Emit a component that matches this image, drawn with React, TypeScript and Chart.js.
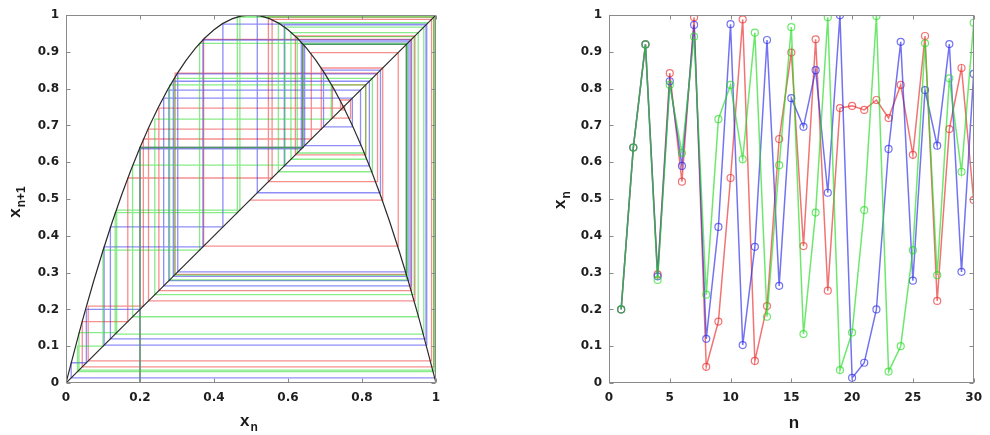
import React, { useEffect, useRef } from 'react';
import { Chart, registerables } from 'chart.js';

Chart.register(...registerables);

// ---- data ----
const nValues = [1, 2, 3, 4, 5, 6, 7, 8, 9, 10, 11, 12, 13, 14, 15, 16, 17, 18, 19, 20, 21, 22, 23, 24, 25, 26, 27, 28, 29, 30];
const redSeries = [0.2, 0.64, 0.92, 0.295, 0.842, 0.547, 0.994, 0.044, 0.167, 0.557, 0.988, 0.06, 0.209, 0.663, 0.898, 0.372, 0.934, 0.251, 0.747, 0.753, 0.742, 0.769, 0.72, 0.81, 0.62, 0.943, 0.223, 0.69, 0.856, 0.497];
const blueSeries = [0.2, 0.64, 0.92, 0.29, 0.82, 0.59, 0.973, 0.12, 0.424, 0.975, 0.103, 0.37, 0.932, 0.264, 0.774, 0.696, 0.85, 0.517, 0.999, 0.014, 0.055, 0.2, 0.636, 0.927, 0.278, 0.796, 0.645, 0.921, 0.302, 0.84];
const greenSeries = [0.2, 0.64, 0.92, 0.28, 0.81, 0.625, 0.941, 0.24, 0.717, 0.81, 0.608, 0.952, 0.18, 0.592, 0.967, 0.133, 0.463, 0.994, 0.035, 0.137, 0.47, 0.997, 0.031, 0.1, 0.361, 0.923, 0.293, 0.828, 0.574, 0.979];

const parabolaX = [0, 0.05, 0.1, 0.15, 0.2, 0.25, 0.3, 0.35, 0.4, 0.45, 0.5, 0.55, 0.6, 0.65, 0.7, 0.75, 0.8, 0.85, 0.9, 0.95, 1];
const parabolaY = [0, 0.19, 0.36, 0.51, 0.64, 0.75, 0.84, 0.91, 0.96, 0.99, 1, 0.99, 0.96, 0.91, 0.84, 0.75, 0.64, 0.51, 0.36, 0.19, 0];
const diagonalX = [0, 1];
const diagonalY = [0, 1];

const leftXTicks = [0, 0.2, 0.4, 0.6, 0.8, 1];
const yTicks = [0, 0.1, 0.2, 0.3, 0.4, 0.5, 0.6, 0.7, 0.8, 0.9, 1];
const rightXTicks = [0, 5, 10, 15, 20, 25, 30];

// ---- styles ----
const RED_W = 'rgba(240,30,30,0.5)';
const GREEN_W = 'rgba(20,215,20,0.5)';
const BLUE_W = 'rgba(30,30,240,0.5)';
const RED = 'rgba(235,40,40,0.65)';
const GREEN = 'rgba(30,220,30,0.65)';
const BLUE = 'rgba(40,40,235,0.65)';

const fmt = (v: number) => String(Number(Number(v).toFixed(2)));

function cobweb(series: number[]) {
  const pts: { x: number; y: number }[] = [{ x: series[0], y: 0 }];
  for (let i = 0; i < series.length - 1; i++) {
    pts.push({ x: series[i], y: series[i + 1] });
    pts.push({ x: series[i + 1], y: series[i + 1] });
  }
  return pts;
}

const zip = (xs: number[], ys: number[]) => xs.map((x, i) => ({ x, y: ys[i] }));

function axis(ticksArr: number[], min: number, max: number, pos: string, size: number) {
  return {
    type: 'linear',
    position: pos,
    min,
    max,
    grid: { display: false, drawTicks: false },
    border: { display: false },
    afterBuildTicks: (s: any) => {
      s.ticks = ticksArr.map((v) => ({ value: v }));
    },
    afterFit: (s: any) => {
      if (pos === 'left') s.width = size;
      else s.height = size;
    },
    ticks: {
      font: { family: 'DejaVu Sans', weight: 'bold', size: 12 },
      color: '#1e1e1e',
      padding: pos === 'left' ? 7 : 8,
      autoSkip: false,
      maxRotation: 0,
      callback: (v: any) => fmt(v),
    },
  };
}

const boxPlugin = {
  id: 'matlabBox',
  afterDatasetsDraw(chart: any) {
    const { ctx, chartArea: a, scales } = chart;
    ctx.save();
    ctx.strokeStyle = '#8a8a8a';
    ctx.lineWidth = 1;
    const L = Math.round(a.left) + 0.5;
    const R = Math.round(a.right) - 0.5;
    const T = Math.round(a.top) + 0.5;
    const B = Math.round(a.bottom) - 0.5;
    ctx.strokeRect(L, T, R - L, B - T);
    const len = 4;
    ctx.beginPath();
    for (const t of scales.x.ticks) {
      const px = Math.round(scales.x.getPixelForValue(t.value)) + 0.5;
      ctx.moveTo(px, B);
      ctx.lineTo(px, B - len);
      ctx.moveTo(px, T);
      ctx.lineTo(px, T + len);
    }
    for (const t of scales.y.ticks) {
      const py = Math.round(scales.y.getPixelForValue(t.value)) + 0.5;
      ctx.moveTo(L, py);
      ctx.lineTo(L + len, py);
      ctx.moveTo(R, py);
      ctx.lineTo(R - len, py);
    }
    ctx.stroke();
    ctx.restore();
  },
};

function drawLabel(ctx: CanvasRenderingContext2D, main: string, sub: string, c: number, base: number, rotated: boolean) {
  ctx.save();
  ctx.fillStyle = '#1a1a1a';
  const mainFont = 'bold 17px "Liberation Sans"';
  const subFont = 'bold 12px "Liberation Sans"';
  ctx.font = mainFont;
  const w1 = ctx.measureText(main).width;
  ctx.font = subFont;
  const w2 = sub ? ctx.measureText(sub).width : 0;
  const total = w1 + (sub ? w2 + 1 : 0);
  if (rotated) {
    ctx.translate(base, c);
    ctx.rotate(-Math.PI / 2);
  } else {
    ctx.translate(c, base);
  }
  ctx.textAlign = 'left';
  ctx.textBaseline = 'alphabetic';
  ctx.font = mainFont;
  ctx.fillText(main, -total / 2, 0);
  if (sub) {
    ctx.font = subFont;
    ctx.fillText(sub, -total / 2 + w1 + 1, 5);
  }
  ctx.restore();
}

function makeTitlePlugin(draw: (ctx: CanvasRenderingContext2D) => void) {
  return {
    id: 'titles',
    afterDraw(chart: any) {
      draw(chart.ctx);
    },
  };
}

function LeftChart() {
  const ref = useRef<HTMLCanvasElement | null>(null);
  useEffect(() => {
    if (!ref.current) return;
    const line = (data: any, color: string, width = 1.3) => ({
      data,
      showLine: true,
      borderColor: color,
      borderWidth: width,
      pointRadius: 0,
      fill: false,
    });
    const chart = new Chart(ref.current, {
      type: 'scatter',
      data: {
        datasets: [
          { ...line(zip(parabolaX, parabolaY), '#2a2a2a', 1.2), cubicInterpolationMode: 'monotone' },
          line(zip(diagonalX, diagonalY), '#2a2a2a', 1.2),
          line(cobweb(greenSeries), GREEN_W),
          line(cobweb(blueSeries), BLUE_W),
          line(cobweb(redSeries), RED_W),
        ],
      } as any,
      options: {
        animation: false,
        responsive: false,
        maintainAspectRatio: false,
        layout: { padding: { top: 15, right: 59, left: 0, bottom: 0 } },
        plugins: { legend: { display: false }, tooltip: { enabled: false } },
        scales: {
          x: axis(leftXTicks, 0, 1, 'bottom', 52),
          y: axis(yTicks, 0, 1, 'left', 66),
        } as any,
      },
      plugins: [
        boxPlugin,
        makeTitlePlugin((ctx) => {
          drawLabel(ctx, 'x', 'n', 249, 426, false);
          drawLabel(ctx, 'x', 'n+1', 202, 20, true);
        }),
      ],
    });
    return () => chart.destroy();
  }, []);
  return <canvas ref={ref} width={495} height={435} style={{ position: 'absolute', left: 0, top: 0 }} />;
}

function RightChart() {
  const ref = useRef<HTMLCanvasElement | null>(null);
  useEffect(() => {
    if (!ref.current) return;
    const series = (ys: number[], color: string) => ({
      data: zip(nValues, ys),
      showLine: true,
      borderColor: color,
      borderWidth: 1.5,
      pointRadius: 3.5,
      pointBorderWidth: 1.2,
      pointBorderColor: color,
      pointBackgroundColor: 'rgba(0,0,0,0)',
      pointStyle: 'circle',
      fill: false,
    });
    const chart = new Chart(ref.current, {
      type: 'scatter',
      data: {
        datasets: [series(greenSeries, GREEN), series(blueSeries, BLUE), series(redSeries, RED)],
      } as any,
      options: {
        animation: false,
        responsive: false,
        maintainAspectRatio: false,
        layout: { padding: { top: 15, right: 10, left: 0, bottom: 0 } },
        plugins: { legend: { display: false }, tooltip: { enabled: false } },
        scales: {
          x: axis(rightXTicks, 0, 30, 'bottom', 52),
          y: axis(yTicks, 0, 1, 'left', 114),
        } as any,
      },
      plugins: [
        boxPlugin,
        makeTitlePlugin((ctx) => {
          drawLabel(ctx, 'n', '', 299, 428, false);
          drawLabel(ctx, 'x', 'n', 200, 70, true);
        }),
      ],
    });
    return () => chart.destroy();
  }, []);
  return <canvas ref={ref} width={495} height={435} style={{ position: 'absolute', left: 495, top: 0 }} />;
}

export default function App() {
  useEffect(() => {
    document.body.style.margin = '0';
  }, []);
  return (
    <div style={{ position: 'relative', width: 990, height: 435, background: '#ffffff', overflow: 'hidden' }}>
      <LeftChart />
      <RightChart />
    </div>
  );
}
